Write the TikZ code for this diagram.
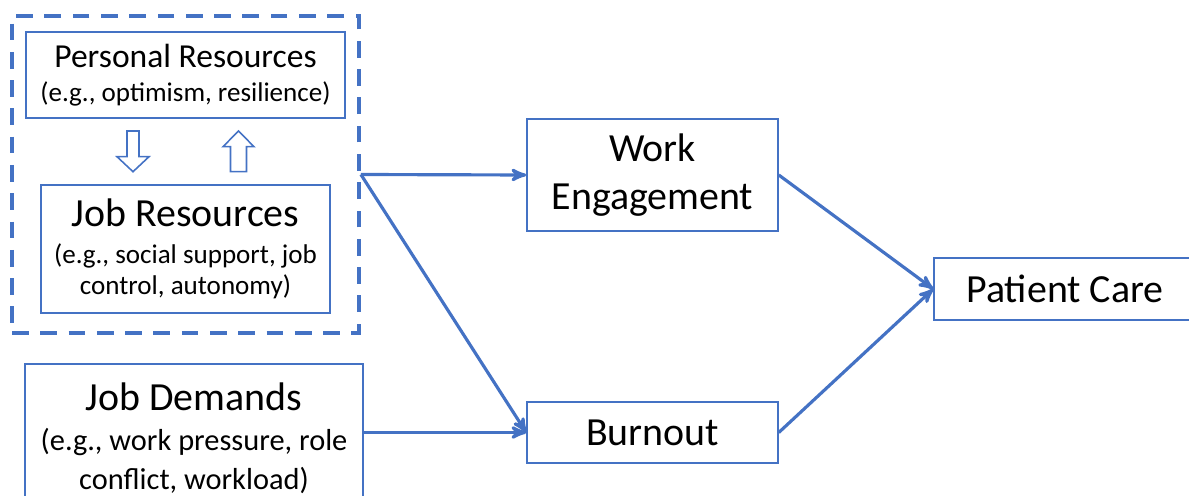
\documentclass[tikz,border=0pt]{standalone}
\usepackage{fontspec}
\setmainfont{Carlito}
\usetikzlibrary{arrows, positioning}
\definecolor{jdblue}{HTML}{4472C4}
\tikzset{
>=stealth', % arrow heads
every node/.style={inner sep=0pt},
box/.style={draw=jdblue, line width=0.9pt, align=center},
link/.style={->, draw=jdblue, line width=1.8pt},
hollow/.style={draw=jdblue, line width=0.9pt, line join=miter},
}
\newcommand{\bigfont}{\fontsize{22.7}{26.7}\selectfont}
\newcommand{\subfont}{\fontsize{15.4}{17.6}\selectfont}

\begin{document}
\begin{tikzpicture}[x=0.02cm, y=-0.02cm]
  \useasboundingbox (0,0) rectangle (1189,496);
  % resources group
  \node[draw=jdblue, line width=2.2pt, dash pattern=on 9.5pt off 6.6pt,
        minimum width=6.94cm, minimum height=6.34cm] (grp) at (185.5,174.5) {};
  \node[box, minimum width=6.38cm, minimum height=1.72cm,
        font=\fontsize{15.4}{19.3}\selectfont] (pr) at (185.5,75)
        {{\fontsize{19.1}{19.3}\selectfont Personal Resources}\\(e.g., optimism, resilience)};
  \node[box, minimum width=5.78cm, minimum height=2.56cm, font=\subfont] (jr) at (185.5,249)
        {{\bigfont Job Resources}\\[3.4pt](e.g., social support, job\\control, autonomy)};
  % hollow arrows
  \draw[hollow] (127,131) -- (139,131) -- (139,156.7) -- (149,156.7) -- (133,171.7)
        -- (117,156.7) -- (127,156.7) -- cycle;
  \draw[hollow] (230.5,171.7) -- (246.5,171.7) -- (246.5,146.7) -- (254,146.7) -- (238.5,131)
        -- (223,146.7) -- (230.5,146.7) -- cycle;
  % demands
  \node[box, minimum width=6.76cm, minimum height=2.96cm,
        font=\fontsize{17.3}{22.2}\selectfont] (jd) at (194,438)
        {{\bigfont Job Demands}\\[0.6pt](e.g., work pressure, role\\conflict, workload)};
  % outcomes
  \node[box, minimum width=5.02cm, minimum height=2.24cm, font=\bigfont] (we) at (652.5,175)
        {Work\\[1pt]Engagement};
  \node[box, minimum width=5.02cm, minimum height=1.22cm, font=\bigfont] (bo) at (652.5,432.5)
        {Burnout};
  \node[box, minimum width=5.24cm, minimum height=1.24cm, font=\bigfont] (pc) at (1065,289)
        {Patient Care};
  % links
  \draw[link] (grp.east) -- (we.west);
  \draw[link] (grp.east) -- (bo.west);
  \draw[link] (jd.east |- bo.west) -- (bo.west);
  \draw[link] (we.east) -- (pc.west);
  \draw[link] (bo.east) -- (pc.west);
\end{tikzpicture}
\end{document}
